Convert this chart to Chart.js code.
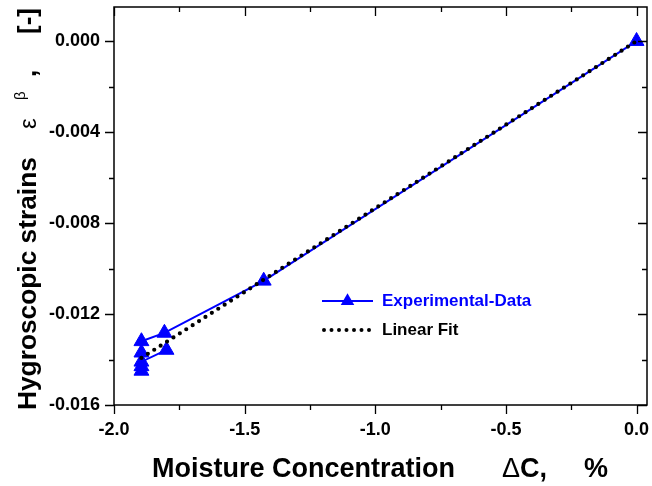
<!DOCTYPE html>
<html><head><meta charset="utf-8">
<script src="https://cdn.jsdelivr.net/npm/chart.js@4"></script>
<style>html,body{margin:0;padding:0;background:#fff}#wrap{width:652px;height:486px;position:relative}</style>
</head><body><div id="wrap"><canvas id="c"></canvas></div>
<script>
// ---- data ----
const expX = [0, -1.427, -1.807, -1.895, -1.895, -1.895, -1.895, -1.895, -1.799];
const expY = [0, -0.01054, -0.01283, -0.0132, -0.0137, -0.0145, -0.0143, -0.0141, -0.01358];
const fitX = [-1.895, 0];
const fitY = [-0.01393, 0];
const xTicks = [-2.0, -1.5, -1.0, -0.5, 0.0];
const xMinor = [-1.75, -1.25, -0.75, -0.25];
const yTicks = [0, -0.004, -0.008, -0.012, -0.016];
const yMinor = [-0.002, -0.006, -0.010, -0.014];
const xRange = [-2.0, 0.04];
const yRange = [-0.016, 0.0015];
const seriesNames = ['Experimental-Data', 'Linear Fit'];
const xTitleParts = ['Moisture Concentration', '\u0394', 'C,', '%'];
const yTitleParts = ['Hygroscopic strains', '\u03B5', '\u03B2', ',', '[-]'];

const FONT = '"Liberation Sans", Arial, sans-serif';
const BLUE = '#0000ff';

const toPts = (xs, ys) => xs.map((x, i) => ({x: x, y: ys[i]}));

const framePlugin = {
  id: 'frame',
  afterDraw(chart) {
    const ctx = chart.ctx, a = chart.chartArea;
    const xs = chart.scales.x, ys = chart.scales.y;
    ctx.save();
    ctx.strokeStyle = '#000';
    ctx.lineWidth = 1.5;
    ctx.strokeRect(a.left, a.top, a.right - a.left, a.bottom - a.top);
    ctx.lineWidth = 1.3;
    const maj = 9, mn = 5;
    ctx.beginPath();
    const xt = (v, len) => {
      const p = Math.round(xs.getPixelForValue(v)) + 0.5;
      ctx.moveTo(p, a.bottom); ctx.lineTo(p, a.bottom + len);
      ctx.moveTo(p, a.top); ctx.lineTo(p, a.top + len);
    };
    const yt = (v, len) => {
      const p = Math.round(ys.getPixelForValue(v)) + 0.5;
      ctx.moveTo(a.left, p); ctx.lineTo(a.left - len, p);
      ctx.moveTo(a.right, p); ctx.lineTo(a.right - len, p);
    };
    xTicks.forEach(v => xt(v, maj));
    xMinor.forEach(v => xt(v, mn));
    yTicks.forEach(v => yt(v, maj));
    yMinor.forEach(v => yt(v, mn));
    ctx.stroke();

    // legend
    const lx0 = 322, lx1 = 373, tx = 382, r1 = 301, r2 = 330;
    ctx.strokeStyle = BLUE; ctx.lineWidth = 2; ctx.setLineDash([]);
    ctx.beginPath(); ctx.moveTo(lx0, r1); ctx.lineTo(lx1, r1); ctx.stroke();
    const rr = 7.8, cx = (lx0 + lx1) / 2;
    ctx.fillStyle = BLUE; ctx.beginPath();
    for (let k = 0; k < 3; k++) {
      const ang = k * 2 * Math.PI / 3;
      const px = cx + Math.sin(ang) * rr, py = r1 - Math.cos(ang) * rr;
      if (k === 0) ctx.moveTo(px, py); else ctx.lineTo(px, py);
    }
    ctx.closePath(); ctx.fill();
    ctx.strokeStyle = '#000'; ctx.lineWidth = 4; ctx.lineCap = 'round';
    ctx.setLineDash([0, 7.5]);
    ctx.beginPath(); ctx.moveTo(lx0 + 2, r2); ctx.lineTo(lx1, r2); ctx.stroke();
    ctx.setLineDash([]); ctx.lineCap = 'butt';
    ctx.font = 'bold 17px ' + FONT;
    ctx.textBaseline = 'middle'; ctx.textAlign = 'left';
    ctx.fillStyle = BLUE; ctx.fillText(seriesNames[0], tx, r1);
    ctx.fillStyle = '#000'; ctx.fillText(seriesNames[1], tx, r2);

    // x title
    ctx.textBaseline = 'alphabetic';
    const xb = 477;
    ctx.font = 'bold 27px ' + FONT; ctx.fillText(xTitleParts[0], 152, xb);
    ctx.font = '27px ' + FONT; ctx.fillText(xTitleParts[1], 502, xb);
    const dw = ctx.measureText(xTitleParts[1]).width;
    ctx.font = 'bold 27px ' + FONT; ctx.fillText(xTitleParts[2], 502 + dw, xb);
    ctx.fillText(xTitleParts[3], 584, xb);

    // y title (rotated)
    ctx.save();
    ctx.translate(36, 410);
    ctx.rotate(-Math.PI / 2);
    ctx.font = 'bold 26.3px ' + FONT; ctx.fillText(yTitleParts[0], 0, 0);
    ctx.font = '24px ' + FONT; ctx.fillText(yTitleParts[1], 281, 0);
    ctx.font = '15px ' + FONT; ctx.fillText(yTitleParts[2], 310, -11);
    ctx.font = 'bold 26px ' + FONT; ctx.fillText(yTitleParts[3], 333, 0);
    ctx.fillText(yTitleParts[4], 376, 0);
    ctx.restore();
    ctx.restore();
  }
};

new Chart(document.getElementById('c'), {
  type: 'scatter',
  data: {
    datasets: [
      {
        label: seriesNames[0], data: toPts(expX, expY), showLine: true,
        borderColor: BLUE, backgroundColor: BLUE, borderWidth: 2,
        pointStyle: 'triangle', pointRadius: 8.6, pointBorderWidth: 1,
        pointBackgroundColor: BLUE, pointBorderColor: BLUE, order: 2
      },
      {
        label: seriesNames[1], data: toPts(fitX, fitY), showLine: true,
        borderColor: '#000', borderWidth: 4.2, borderDash: [0, 7.6],
        borderCapStyle: 'round', pointRadius: 0, order: 1
      }
    ]
  },
  options: {
    responsive: true, maintainAspectRatio: false, animation: false,
    layout: {autoPadding: false, padding: {top: 7, right: 5, left: 0, bottom: 0}},
    plugins: {legend: {display: false}, tooltip: {enabled: false}},
    scales: {
      x: {
        type: 'linear', min: xRange[0], max: xRange[1],
        grid: {display: false, tickLength: 14}, border: {display: false},
        afterBuildTicks: s => { s.ticks = xTicks.map(v => ({value: v})); },
        afterFit: s => { s.height = 81; s.paddingLeft = 0; s.paddingRight = 0; },
        ticks: {color: '#000', padding: 0, maxRotation: 0,
          font: {family: FONT, size: 18, weight: 'bold'},
          callback: v => Number(v).toFixed(1)}
      },
      y: {
        type: 'linear', min: yRange[0], max: yRange[1],
        grid: {display: false, tickLength: 14}, border: {display: false},
        afterBuildTicks: s => { s.ticks = yTicks.map(v => ({value: v})); },
        afterFit: s => { s.width = 114; s.paddingTop = 0; s.paddingBottom = 0; },
        ticks: {color: '#000', padding: 0,
          font: {family: FONT, size: 18, weight: 'bold'},
          callback: v => Number(v).toFixed(3)}
      }
    }
  },
  plugins: [framePlugin]
});
</script>
</body></html>
